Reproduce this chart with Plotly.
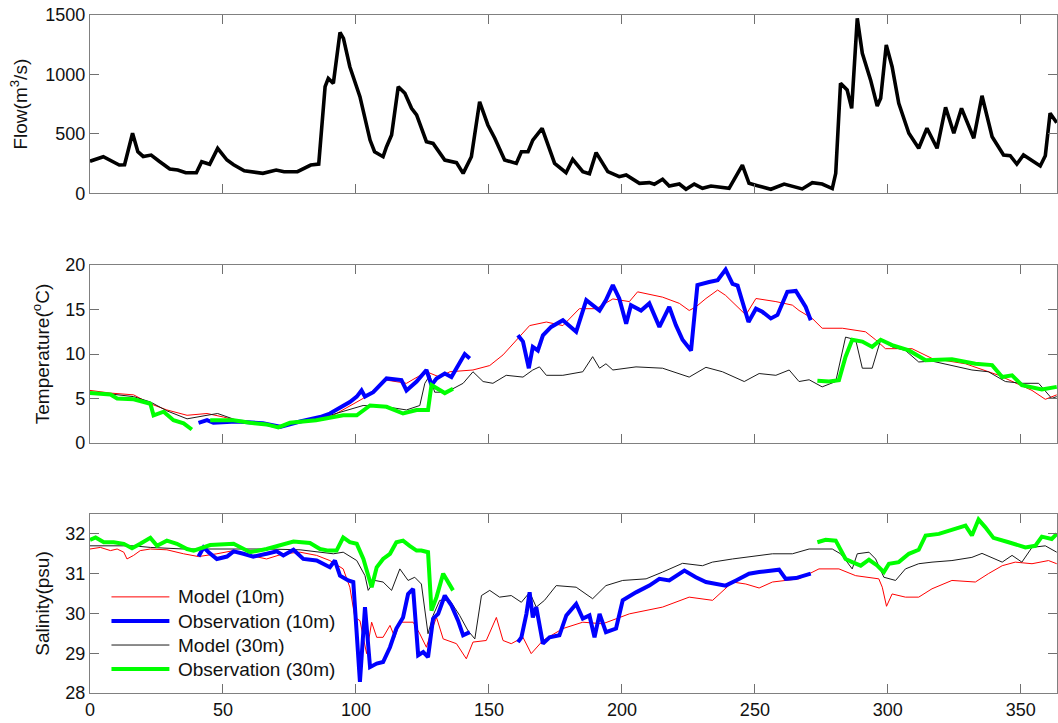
import plotly.graph_objects as go

# ---------------- Flow (m3/s) ----------------
flow_day = [0, 5, 11, 13, 16, 18, 20, 23, 26, 28, 30, 33, 36, 40, 42, 45, 48, 51.5, 54, 58, 65, 70, 73, 78, 83, 86,
            88.4, 89.6, 91.5, 94, 95.3, 97.7, 101.5, 105.3, 107, 110.2, 111.5, 113.4, 115.9, 118.4, 120.9, 122.8,
            126.5, 129, 133.4, 137.8, 140.3, 143.4, 146.5, 149.6, 152.2, 155.9, 160.3, 162.2, 164.7, 166.5, 170,
            174.7, 179, 181.5, 185.3, 187.8, 190.3, 194.7, 199, 201.6, 206.6, 210.3, 212.2, 215.3, 217.8, 221.6,
            224.1, 227.2, 230.3, 233.5, 240.3, 245.3, 247.8, 251, 256, 261, 267.8, 271.6, 275.3, 279.1, 280.4,
            282.2, 284.7, 286.4, 288.5, 290.4, 293.5, 296, 297.3, 299.4, 301.6, 304.1, 307.9, 311.6, 314.7, 318.5,
            321.7, 324.8, 327.7, 332.3, 335.4, 339.2, 343.5, 346, 348.5, 351, 357.3, 359.2, 361, 363.5]
flow_val = [270, 308, 238, 240, 505, 350, 310, 322, 270, 240, 205, 196, 173, 173, 266, 244, 378, 280, 240, 190, 168,
            196, 182, 182, 238, 246, 897, 967, 925, 1354, 1304, 1065, 813, 448, 350, 308, 392, 490, 897, 841, 715,
            659, 434, 420, 280, 258, 168, 308, 770, 575, 463, 280, 252, 350, 350, 448, 547, 252, 173, 286, 182,
            165, 342, 182, 140, 154, 84, 90, 76, 118, 61, 78, 34, 78, 42, 61, 42, 238, 84, 64, 34, 78, 37, 90, 78,
            40, 168, 925, 869, 715, 1472, 1178, 954, 734, 799, 1248, 1065, 757, 505, 379, 547, 379, 724, 505, 715,
            463, 821, 476, 322, 316, 246, 322, 230, 316, 673, 594]

# ---------------- Temperature (oC) ----------------
t_mod10_day = [0, 7.7, 16.4, 22.7, 28.9, 36.5, 44, 50.2, 56.5, 64, 71.5, 79, 86.5, 91.5, 102.7, 111.5, 119, 126.5,
               131.5, 135.3, 144, 150.3, 155.3, 160.3, 165.3, 171.6, 177.8, 184, 190.3, 196.6, 202.8, 205.9,
               215.3, 221.6, 225.3, 227.8, 231.6, 236, 239, 246.6, 250.4, 257.9, 264.1, 266.6, 271.6, 275.3,
               282.9, 291.6, 295.4, 299.1, 309.1, 316.6, 329.2, 341.7, 354.2, 359.2, 363.5]
t_mod10_val = [5.9, 5.6, 5.4, 4.4, 3.7, 3.1, 3.3, 2.9, 2.4, 2.1, 1.9, 2.4, 2.55, 3.1, 5.0, 7.06, 6.7, 8.0, 7.4,
               8.0, 8.2, 8.7, 9.9, 11.6, 13.2, 13.6, 13.2, 15.1, 15.1, 16.2, 15.9, 17.0, 16.4, 15.7, 14.9, 15.3,
               16.25, 17.2, 16.6, 14.4, 16.25, 15.9, 15.5, 14.9, 14.0, 12.9, 12.9, 12.5, 11.6, 10.6, 10.6, 9.5,
               8.9, 7.6, 5.9, 4.9, 5.4]

t_obs10_day = [40.8, 44, 46.4, 55, 65, 71.5, 79, 86.5, 90.2, 95.2, 97.7, 100.3, 102.1, 103.4, 106.5, 111.5, 117.1,
               119, 122.8, 126.5, 128.4, 130.3, 133.4, 135.9, 138.4, 140.9, 142.8,
               None,
               160.9, 162.8, 165, 166.5, 168.4, 170.3, 173.4, 177.8, 182.8, 186.6, 191.6, 194, 196.6, 199, 201.6,
               203.4, 207.2, 210.3, 214.1, 217.8, 220.3, 222.8, 226, 228.4, 232.8, 236, 239, 241.6, 243.5,
               247.6, 250.4, 252.8, 256, 258.5, 262.2, 265.4, 269.1, 271]
t_obs10_val = [2.25, 2.55, 2.25, 2.4, 2.2, 1.8, 2.4, 2.9, 3.3, 4.2, 4.6, 5.2, 5.9, 5.2, 5.7, 7.25, 7.06, 5.9, 6.9,
               8.2, 6.5, 7.25, 7.8, 7.4, 8.75, 10.0, 9.5,
               None,
               12.1, 11.4, 8.4, 10.8, 10.4, 12.1, 13.05, 13.8, 12.5, 16.06, 14.9, 16.06, 17.75, 16.25, 13.4,
               15.5, 14.9, 15.7, 13.05, 15.3, 13.25, 11.6, 10.4, 17.75, 18.1, 18.3, 19.5, 17.9, 17.7, 13.6,
               15.1, 14.75, 14.0, 14.4, 17.0, 17.1, 15.3, 13.8]

t_mod30_day = [0, 7.7, 16.4, 22.7, 28.9, 36.5, 44, 48, 56.5, 64, 71.5, 79, 86.5, 90.2, 102.7, 111.5, 119, 124,
               125.9, 127.8, 129.6, 134, 140.3, 144, 147.8, 151.5, 156.5, 162.8, 166.5, 169, 171.6, 177.8, 185.3,
               189, 191.6, 194, 196.6, 205.3, 215.3, 225.3, 231.6, 237.8, 246, 251.6, 257.9, 262.9, 266.6, 270.4,
               275.3, 280.4, 284.1, 287.9, 290.4, 294.1, 297.3, 301.6, 306.6, 311.6, 316.6, 324.1, 331.6, 337.8,
               344.2, 350.4, 356.7, 361.6, 363.5]
t_mod30_val = [5.6, 5.5, 5.2, 4.6, 3.6, 2.7, 3.1, 3.3, 2.4, 2.1, 1.9, 2.4, 2.7, 3.1, 4.2, 4.05, 3.7, 4.2, 6.7, 7.6,
               5.7, 5.7, 6.7, 8.0, 6.9, 6.7, 7.6, 7.4, 8.2, 8.55, 7.6, 7.6, 8.0, 9.7, 8.4, 8.9, 8.2, 8.55, 8.4,
               7.4, 8.5, 8.0, 6.9, 7.8, 7.6, 8.2, 6.9, 7.1, 6.3, 6.9, 11.9, 11.6, 8.4, 8.4, 11.6, 10.8, 10.4,
               9.1, 9.2, 8.7, 8.2, 8.0, 6.9, 6.7, 6.7, 5.0, 5.2]

t_obs30_day = [0, 7.7, 10.2, 16.4, 22.7, 23.9, 27.7, 31.4, 35.2, 38.3,
               None,
               45.2, 54, 60.2, 66.4, 70.8, 75.2, 85, 91.5, 95.2, 100.3, 105.3, 111.5, 117.7, 122.8, 127.1, 128.4,
               131.5, 133.4, 136.5,
               None,
               273.5, 277.9, 281.6, 284.1, 286.6, 290.4, 294.1, 297.3, 301.6, 307.9, 314.2, 324.1, 332.9, 339.2,
               343, 346.7, 350.4, 354.2, 357.9, 363.5]
t_obs30_val = [5.6, 5.45, 5.0, 4.9, 4.4, 3.1, 3.5, 2.55, 2.2, 1.5,
               None,
               2.55, 2.55, 2.25, 2.07, 1.73, 2.25, 2.55, 2.9, 3.1, 3.1, 4.2, 4.05, 3.3, 3.7, 3.7, 6.5, 5.9, 5.6,
               6.1,
               None,
               7.0, 6.9, 7.06, 9.7, 11.6, 11.4, 10.8, 11.6, 11.0, 10.4, 9.3, 9.4, 8.9, 8.75, 7.4, 7.6, 6.5, 6.3,
               6.0, 6.3]

# ---------------- Salinity (psu) ----------------
s_mod10_day = [0, 3.9, 7.7, 10.2, 12.7, 13.9, 16.4, 18.9, 22.7, 28.9, 35.2, 40.8, 47.7, 54, 60.2, 66.4, 72.7, 79,
               85.2, 90.2, 95.2, 97.7, 99.6, 101.5, 104, 105.9, 107.8, 110.2, 112.8, 114.6, 116.5, 121.5, 124,
               126.5, 128.4, 130.3, 132.8, 137.8, 141.5, 144, 149, 152.8, 155.3, 158.4, 162.8, 165.9, 170.3,
               177.8, 185.3, 192.8, 202.8, 215.3, 225.3, 234.1, 241.6, 246.6, 251.6, 256.6, 266.6, 274.1, 281.6,
               287.9, 296.6, 297.9, 299.5, 301.6, 306.6, 311.6, 316.6, 324.1, 332.9, 337.8, 343, 347.9, 354.2,
               360.4, 363.5]
s_mod10_val = [31.62, 31.66, 31.58, 31.62, 31.54, 31.37, 31.46, 31.58, 31.62, 31.6, 31.5, 31.43, 31.5, 31.58,
               31.46, 31.37, 31.5, 31.54, 31.46, 31.33, 31.12, 30.66, 29.9, 29.82, 28.99, 29.78, 29.4, 29.4, 29.7,
               29.4, 29.78, 29.78, 29.49, 29.15, 29.57, 29.9, 29.36, 29.24, 28.86, 29.28, 29.32, 29.9, 29.32,
               29.24, 29.4, 28.99, 29.32, 29.62, 29.78, 29.74, 29.99, 30.16, 30.41, 30.33, 30.79, 30.74, 30.64,
               30.79, 30.87, 31.12, 31.12, 30.95, 30.87, 30.66, 30.18, 30.49, 30.41, 30.41, 30.62, 30.83, 30.79,
               31.0, 31.2, 31.29, 31.25, 31.33, 31.25]

s_obs10_day = [40.8, 42.7, 44.6, 47.7, 51.5, 54, 57.7, 61.4, 66.4, 70.2, 72.7, 76.5, 80.2, 85.2, 90.2, 92.1, 94,
               97.1, 99, 101.5, 103.4, 105.3, 107.8, 110.2, 112.8, 115.2, 117.7, 119.6, 121.5, 123.4, 125.3,
               127.1, 129, 130.9, 133.4, 135.9, 138.4, 140.3, 142.8,
               None,
               160.9, 162.2, 164.1, 165.3, 166.5, 167.8, 170.3, 172.8, 176.5, 179.1, 182.8, 185.3, 187.8, 189.7,
               191.6, 194, 197.8, 200.3, 205.3, 210.3, 214.1, 217.8, 223.5, 227.8, 231.6, 235.3, 239, 242.9,
               247.8, 251.6, 255.3, 259.1, 261.6, 265.4, 271]
s_obs10_val = [31.43, 31.66, 31.54, 31.37, 31.43, 31.56, 31.5, 31.43, 31.5, 31.56, 31.46, 31.6, 31.37, 31.33,
               31.16, 31.33, 30.95, 30.83, 30.79, 28.28, 30.16, 28.65, 28.74, 28.78, 29.15, 29.62, 29.9, 30.49,
               30.62, 28.95, 29.03, 28.9, 29.87, 29.99, 30.45, 30.2, 29.82, 29.45, 29.53,
               None,
               29.28, 29.4, 29.99, 30.53, 29.9, 30.16, 29.24, 29.4, 29.45, 29.95, 30.24, 29.87, 29.95, 29.4,
               29.99, 29.53, 29.62, 30.33, 30.53, 30.7, 30.87, 30.83, 31.08, 30.91, 30.79, 30.74, 30.7, 30.83,
               31.0, 31.04, 31.08, 31.1, 30.87, 30.89, 31.0]

s_mod30_day = [0, 16.4, 22.7, 35.2, 41.4, 54, 66.4, 79, 86.5, 91.5, 95.2, 100.3, 103.4, 104.6, 107.1, 110.2,
               113.4, 116.5, 119.6, 122.1, 124.6, 127.1, 129, 131.5, 135.3, 139, 142.1, 144.7, 147.2, 150.3, 154,
               158.4, 162.2, 165.3, 167.8, 170.9, 175.3, 182.8, 189, 194, 200.3, 209.1, 215.3, 222.8, 230.3,
               234, 241.6, 249.1, 256.6, 264.1, 270.4, 279.1, 282.2, 284.7, 286.6, 288.5, 292.9, 295.4, 298.5,
               302.9, 306.6, 311.6, 316.6, 324.1, 331.6, 335.4, 339.2, 343, 346.7, 350.4, 354.2, 359.2, 363.5]
s_mod30_val = [31.7, 31.7, 31.66, 31.62, 31.62, 31.62, 31.62, 31.6, 31.54, 31.5, 31.54, 31.33, 30.95, 30.58,
               30.83, 30.79, 30.58, 31.12, 30.83, 30.91, 30.74, 29.49, 29.95, 30.33, 30.33, 29.95, 29.57, 29.36,
               30.45, 30.58, 30.41, 30.45, 30.28, 30.53, 30.16, 30.33, 30.7, 30.66, 30.37, 30.7, 30.83, 30.87,
               31.04, 31.26, 31.2, 31.29, 31.37, 31.43, 31.5, 31.5, 31.62, 31.62, 31.5, 31.29, 31.12, 31.5,
               31.54, 31.37, 30.91, 30.83, 31.12, 31.25, 31.29, 31.33, 31.41, 31.51, 31.41, 31.29, 31.46, 31.29,
               31.66, 31.7, 31.54]

s_obs30_day = [0, 2.1, 5.2, 8.9, 12.7, 15.8, 18.9, 22.7, 25.2, 28.9, 32.7, 36.5, 39, 45.2, 54, 60.2, 66.4, 72.7,
               76.5, 82.7, 86.5, 89.6, 92.7, 95.2, 97.7, 100.3, 102.8, 105.9, 107.8, 110.2, 112.8, 115.2, 117.7,
               120.2, 122.8, 124.6, 127.1, 128.4, 130.3, 132.8, 134.6, 136.5,
               None,
               273.5, 276.6, 280.4, 282.2, 284.1, 286.6, 289.8, 292.9, 296.1, 298.5, 300.4, 304.1, 307.9, 311.6,
               314.2, 319.2, 324.1, 329.2, 331.6, 334.1, 336.6, 339.7, 345.4, 351.7, 355.4, 357.9, 361.6, 363.5]
s_obs30_val = [31.85, 31.91, 31.79, 31.79, 31.75, 31.64, 31.75, 31.9, 31.7, 31.83, 31.75, 31.62, 31.58, 31.72,
               31.75, 31.54, 31.62, 31.73, 31.81, 31.77, 31.62, 31.58, 31.58, 31.91, 31.79, 31.75, 31.37, 30.66,
               31.16, 31.37, 31.5, 31.79, 31.83, 31.7, 31.58, 31.58, 31.54, 30.07, 30.41, 31.0, 30.79, 30.58,
               None,
               31.79, 31.85, 31.83, 31.58, 31.37, 31.29, 31.2, 31.35, 31.2, 31.04, 31.25, 31.29, 31.5, 31.6,
               31.96, 32.0, 32.1, 32.21, 31.96, 32.36, 32.17, 31.9, 31.79, 31.66, 31.7, 31.93, 31.87, 32.0]

x_ticks = [0, 50, 100, 150, 200, 250, 300, 350]
flow_ticks = [0, 500, 1000, 1500]
temp_ticks = [0, 5, 10, 15, 20]
sal_ticks = [28, 29, 30, 31, 32]

legend_names = ["Model (10m)", "Observation (10m)", "Model (30m)", "Observation (30m)"]

RED = "#ff0000"
BLUE = "#0000ff"
DARK = "#1a1a1a"
GREEN = "#00ff00"
FLOWC = "#000000"
series_colors = [RED, BLUE, DARK, GREEN]
series_widths = [1, 4, 1, 4]
FONT = "Arial, Liberation Sans, sans-serif"
TXT = "#111111"

fig = go.Figure()

fig.add_trace(go.Scatter(x=flow_day, y=flow_val, mode="lines", line=dict(color=FLOWC, width=3.6),
                         xaxis="x", yaxis="y", showlegend=False))

temp_series = [(t_mod10_day, t_mod10_val), (t_obs10_day, t_obs10_val),
               (t_mod30_day, t_mod30_val), (t_obs30_day, t_obs30_val)]
sal_series = [(s_mod10_day, s_mod10_val), (s_obs10_day, s_obs10_val),
              (s_mod30_day, s_mod30_val), (s_obs30_day, s_obs30_val)]
draw_order = [0, 2, 1, 3]
for i in draw_order:
    d, v = temp_series[i]
    fig.add_trace(go.Scatter(x=d, y=v, mode="lines", line=dict(color=series_colors[i], width=series_widths[i]),
                             xaxis="x2", yaxis="y2", name=legend_names[i], showlegend=False))
for i in draw_order:
    d, v = sal_series[i]
    fig.add_trace(go.Scatter(x=d, y=v, mode="lines", line=dict(color=series_colors[i], width=series_widths[i]),
                             xaxis="x3", yaxis="y3", name=legend_names[i], showlegend=False))

# manual legend (longer line samples, as in the reference)
leg_y = [0.537, 0.402, 0.268, 0.134]
for i, name in enumerate(legend_names):
    fig.add_shape(type="line", xref="x3 domain", yref="y3 domain", x0=0.0222, x1=0.0821,
                  y0=leg_y[i], y1=leg_y[i], line=dict(color=series_colors[i], width=series_widths[i]))
    fig.add_annotation(xref="x3 domain", yref="y3 domain", x=0.0885, y=leg_y[i], text=name,
                       showarrow=False, xanchor="left", yanchor="middle",
                       font=dict(family=FONT, size=19, color=TXT))

axis_common = dict(showgrid=False, zeroline=False, showline=True, linecolor="#808080", linewidth=1.3,
                   mirror="ticks", ticks="inside", ticklen=9, tickcolor="#707070", tickwidth=1.2,
                   automargin=False,
                   tickfont=dict(family=FONT, size=18, color=TXT))

xr = [0, 363.6]
title_font = dict(family=FONT, size=19, color=TXT)
fig.update_layout(
    width=1058, height=723,
    margin=dict(l=90, r=1, t=15, b=30, autoexpand=False),
    paper_bgcolor="white", plot_bgcolor="white",
    font=dict(family=FONT, size=18, color=TXT),
    showlegend=False,
    xaxis=dict(domain=[0, 1], range=xr, anchor="y", tickvals=x_ticks, showticklabels=False, **axis_common),
    yaxis=dict(domain=[0.737, 1.0], range=[0, 1500], anchor="x", tickvals=flow_ticks,
               title=dict(text="Flow(m<sup>3</sup>/s)", font=title_font, standoff=12), **axis_common),
    xaxis2=dict(domain=[0, 1], range=xr, anchor="y2", tickvals=x_ticks, showticklabels=False, **axis_common),
    yaxis2=dict(domain=[0.369, 0.631], range=[0, 20], anchor="x2", tickvals=temp_ticks,
                title=dict(text="Temperature(<sup>o</sup>C)", font=title_font, standoff=10), **axis_common),
    xaxis3=dict(domain=[0, 1], range=xr, anchor="y3", tickvals=x_ticks, **axis_common),
    yaxis3=dict(domain=[0.0, 0.264], range=[28, 32.5], anchor="x3", tickvals=sal_ticks,
                title=dict(text="Salinity(psu)", font=title_font, standoff=10), **axis_common),
)

# remove the default page margin so the figure sits at the window's top-left corner
fig.write_html("out.html", config={"displayModeBar": False},
               post_script="document.body.style.margin='0';document.body.style.overflow='hidden';")
